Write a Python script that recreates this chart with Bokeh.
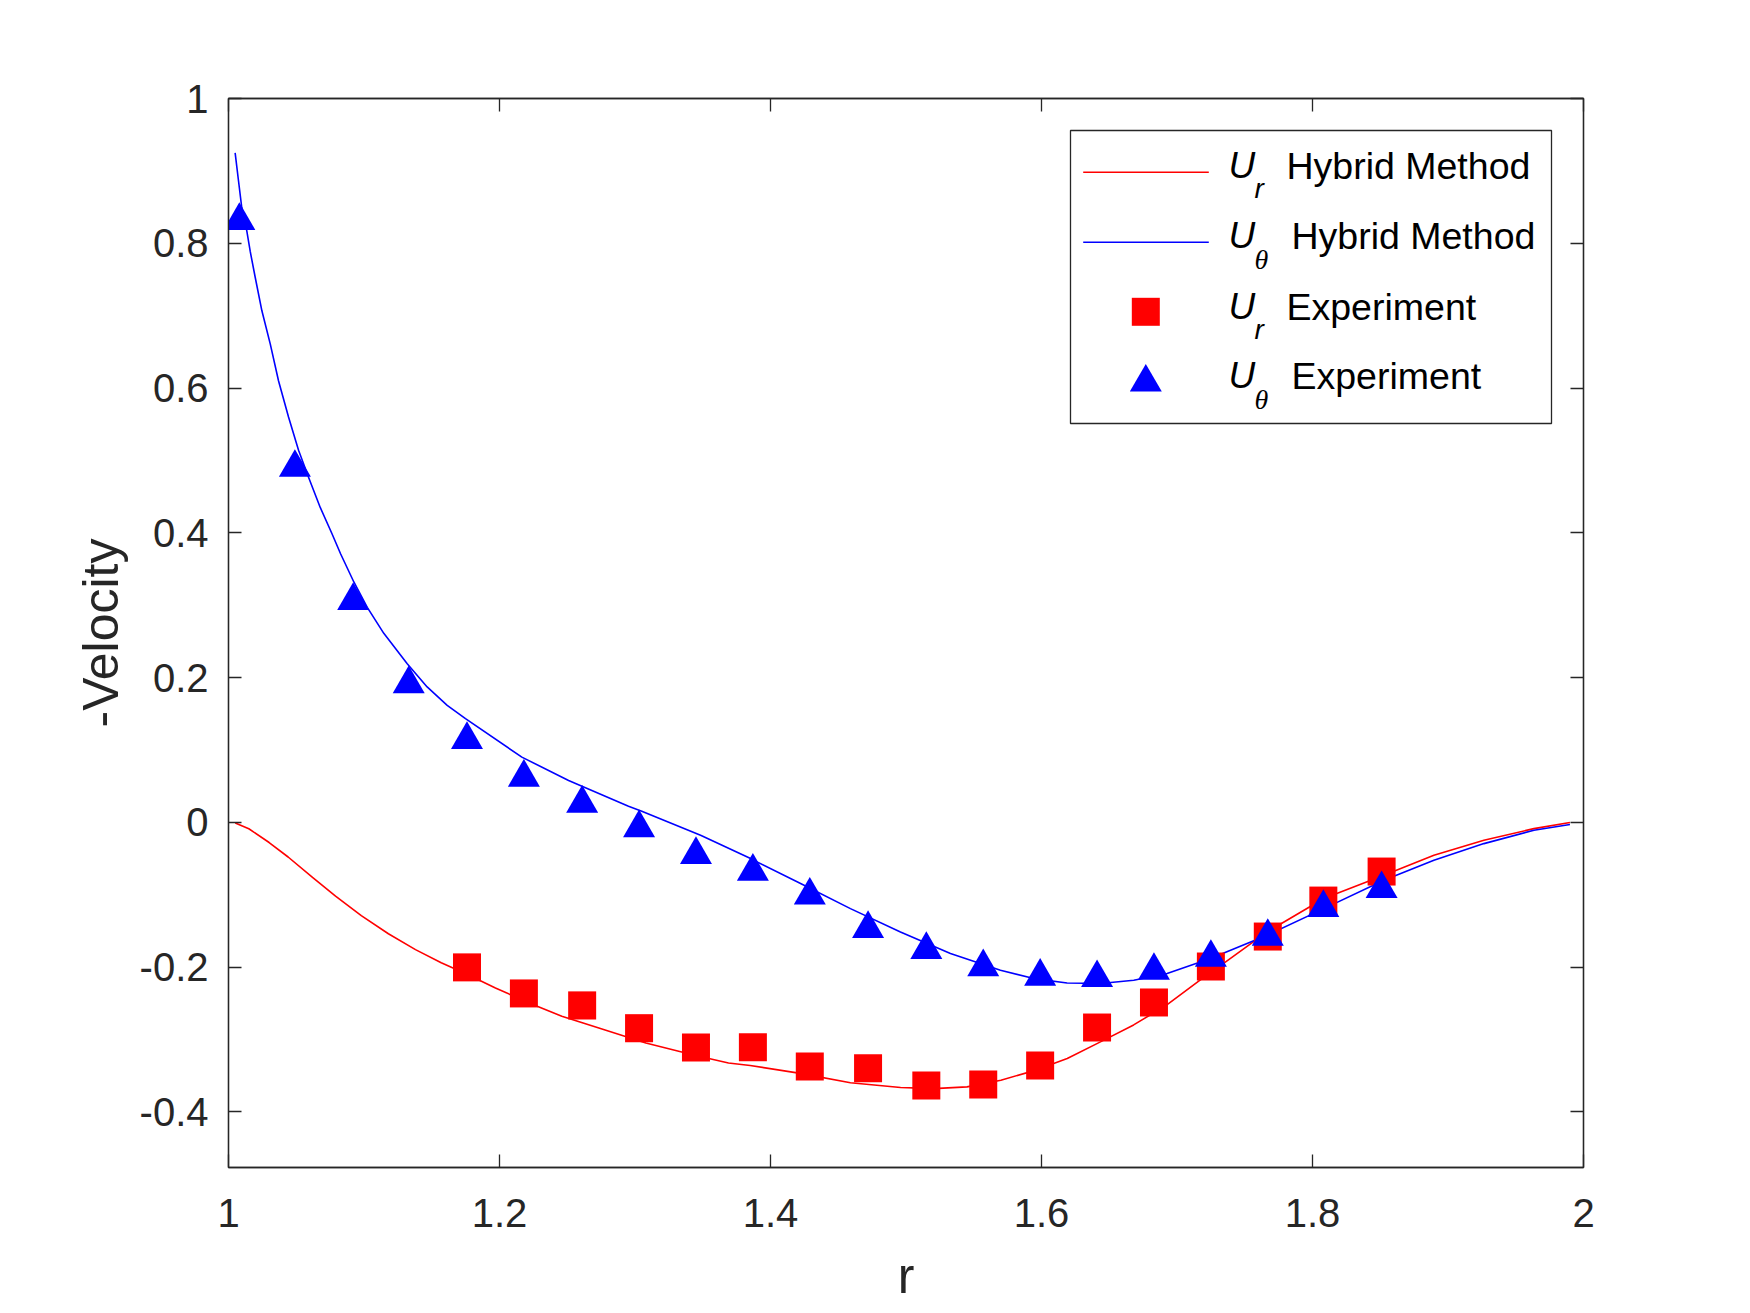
from bokeh.plotting import figure
from bokeh.models import (Range1d, FixedTicker, CustomJSTickFormatter, LinearAxis,
                          BoxAnnotation, PolyAnnotation, Label, Arrow)
from bokeh.embed import file_html
from bokeh.resources import INLINE

# ---------------- data ----------------
r_exp = [1.008, 1.049, 1.092, 1.133, 1.176, 1.218, 1.261, 1.303, 1.345, 1.387, 1.429,
         1.472, 1.515, 1.557, 1.599, 1.641, 1.683, 1.725, 1.767, 1.808, 1.851]
ut_exp = [0.831, 0.490, 0.306, 0.191, 0.114, 0.062, 0.026, -0.008, -0.045, -0.068, -0.101,
          -0.147, -0.176, -0.200, -0.213, -0.215, -0.205, -0.187, -0.158, -0.118, -0.092]
r_exp_ur = [1.176, 1.218, 1.261, 1.303, 1.345, 1.387, 1.429, 1.472, 1.515, 1.557, 1.599,
            1.641, 1.683, 1.725, 1.767, 1.808, 1.851]
ur_exp = [-0.2005, -0.2365, -0.253, -0.2845, -0.3113, -0.3108, -0.3375, -0.3398, -0.3637,
          -0.3623, -0.3361, -0.2836, -0.249, -0.1993, -0.1579, -0.1082, -0.0681]

r_ur_line = [1.005, 1.015, 1.030, 1.044, 1.062, 1.079, 1.098, 1.118, 1.138, 1.157, 1.176,
             1.197, 1.221, 1.246, 1.271, 1.308, 1.344, 1.369, 1.385, 1.422, 1.459, 1.496,
             1.5205, 1.545, 1.570, 1.594, 1.619, 1.6435, 1.668, 1.692, 1.717, 1.7247,
             1.7665, 1.8084, 1.8527, 1.8896, 1.9265, 1.9634, 1.990]
ur_line = [-0.001, -0.009, -0.028, -0.048, -0.076, -0.102, -0.129, -0.154, -0.176, -0.194,
           -0.210, -0.229, -0.249, -0.268, -0.283, -0.305, -0.322, -0.3326, -0.336, -0.347,
           -0.360, -0.3665, -0.368, -0.3656, -0.3564, -0.3435, -0.3264, -0.3034, -0.280,
           -0.253, -0.218, -0.208, -0.1515, -0.1054, -0.0732, -0.0456, -0.0249, -0.0088,
           -0.0003]

r_ut_line = [1.0049, 1.0074, 1.0098, 1.0135, 1.016, 1.0197, 1.0246, 1.0308, 1.0369, 1.0443,
             1.0517, 1.059, 1.0677, 1.0763, 1.0827, 1.0925, 1.1024, 1.1146, 1.1319, 1.1466,
             1.1614, 1.1749, 1.2165, 1.251, 1.2952, 1.305, 1.3484, 1.3853, 1.4222, 1.459,
             1.4959, 1.5328, 1.5697, 1.5943, 1.6189, 1.6435, 1.6681, 1.6927, 1.7247, 1.7665,
             1.8084, 1.8527, 1.8896, 1.9265, 1.9634, 1.990]
ut_line = [0.925, 0.886, 0.849, 0.817, 0.789, 0.753, 0.707, 0.661, 0.610, 0.560,
           0.514, 0.477, 0.435, 0.399, 0.371, 0.332, 0.297, 0.261, 0.219, 0.187,
           0.1616, 0.1432, 0.090, 0.0577, 0.022, 0.0152, -0.018, -0.0502, -0.0847, -0.1193,
           -0.1515, -0.1814, -0.2044, -0.216, -0.222, -0.2228, -0.2182, -0.209, -0.1883, -0.156,
           -0.1193, -0.0801, -0.0525, -0.0295, -0.0111, -0.003]

x_ticks = [1.0, 1.2, 1.4, 1.6, 1.8, 2.0]
y_ticks = [-0.4, -0.2, 0.0, 0.2, 0.4, 0.6, 0.8, 1.0]
x_label = "r"
y_label = "-Velocity"
legend_entries = [("U", "r", "Hybrid Method"), ("U", "\u03b8", "Hybrid Method"),
                  ("U", "r", "Experiment"), ("U", "\u03b8", "Experiment")]

# ---------------- styling ----------------
AX = "#262626"
FONT = "Liberation Sans"
RED = "#ff0000"
BLUE = "#0000ff"

# frame placed at page x 228..1583, y 98..1167
FW, FH = 1355, 1069
p = figure(frame_width=FW, frame_height=FH,
           min_border_left=228, min_border_right=159, min_border_top=98, min_border_bottom=138,
           x_range=Range1d(1, 2), y_range=Range1d(-0.477, 1.0),
           output_backend="svg", toolbar_location=None,
           background_fill_color="white", border_fill_color="white")
p.outline_line_color = AX
p.outline_line_width = 1.3
p.xgrid.visible = False
p.ygrid.visible = False

fmt_code = "return (Math.round(tick*10)/10).toString();"

def style_axis(ax, ticks, show_labels):
    ax.ticker = FixedTicker(ticks=ticks)
    ax.formatter = CustomJSTickFormatter(code=fmt_code if show_labels else "return '';")
    ax.major_tick_in = 13
    ax.major_tick_out = 0
    ax.minor_tick_in = 0
    ax.minor_tick_out = 0
    ax.major_tick_line_color = AX
    ax.major_tick_line_width = 1.3
    ax.axis_line_color = AX
    ax.axis_line_width = 1.3
    ax.major_label_text_font = FONT
    ax.major_label_text_font_size = "40px"
    ax.major_label_text_color = AX
    ax.axis_label_text_font = FONT
    ax.axis_label_text_font_size = "50px"
    ax.axis_label_text_font_style = "normal"
    ax.axis_label_text_color = AX

xa = p.xaxis[0]
ya = p.yaxis[0]
style_axis(xa, x_ticks, True)
style_axis(ya, y_ticks, True)
xa.axis_label = x_label
ya.axis_label = y_label
xa.major_label_standoff = 31
ya.major_label_standoff = 20
xa.axis_label_standoff = 18
ya.axis_label_standoff = 8

ra = LinearAxis()
style_axis(ra, y_ticks, False)
p.add_layout(ra, "right")
ta = LinearAxis()
style_axis(ta, x_ticks, False)
p.add_layout(ta, "above")

# ---------------- data glyphs ----------------
p.line(r_ur_line, ur_line, line_color=RED, line_width=1.6)
p.line(r_ut_line, ut_line, line_color=BLUE, line_width=1.6)
p.scatter(r_exp_ur, ur_exp, marker="square", size=28, fill_color=RED, line_color=None)
p.scatter(r_exp, ut_exp, marker="triangle", size=32, fill_color=BLUE, line_color=None)

# ---------------- legend (drawn by hand, screen units relative to the frame) ----------------
def sx(px):
    return px - 228

def sy(py):
    return 1167 - py

p.add_layout(BoxAnnotation(left=sx(1070), right=sx(1551), top=sy(130), bottom=sy(423),
                           left_units="screen", right_units="screen",
                           top_units="screen", bottom_units="screen",
                           fill_color="white", fill_alpha=1.0,
                           line_color=AX, line_width=1.3, line_alpha=1.0))

TEXT_SHIFT = 13.0
SUB_SHIFT = 7.0
row_base = [178.3, 248.3, 319.0, 388.3]
sub_base = [195.0, 266.0, 335.7, 405.7]
text_x = [1286, 1291, 1286, 1291]
sample_x0, sample_x1, sample_cx = 1082.7, 1208.3, 1145.3

p.add_layout(Arrow(end=None, x_start=sx(sample_x0), x_end=sx(sample_x1),
                   y_start=sy(171.7), y_end=sy(171.7),
                   start_units="screen", end_units="screen",
                   line_color=RED, line_width=1.6))
p.add_layout(Arrow(end=None, x_start=sx(sample_x0), x_end=sx(sample_x1),
                   y_start=sy(241.7), y_end=sy(241.7),
                   start_units="screen", end_units="screen",
                   line_color=BLUE, line_width=1.6))
p.add_layout(BoxAnnotation(left=sx(sample_cx - 14), right=sx(sample_cx + 14),
                           top=sy(311.3 - 14), bottom=sy(311.3 + 14),
                           left_units="screen", right_units="screen",
                           top_units="screen", bottom_units="screen",
                           fill_color=RED, fill_alpha=1.0, line_alpha=0))
p.add_layout(PolyAnnotation(xs=[sx(sample_cx - 16), sx(sample_cx + 16), sx(sample_cx)],
                            ys=[sy(391), sy(391), sy(363.5)],
                            xs_units="screen", ys_units="screen",
                            fill_color=BLUE, fill_alpha=1.0, line_alpha=0))

for i, (main, sub, rest) in enumerate(legend_entries):
    yb = sy(row_base[i] - TEXT_SHIFT)
    ys = sy(sub_base[i] - SUB_SHIFT)
    p.add_layout(Label(x=sx(1228), y=yb, x_units="screen", y_units="screen",
                       text=main, text_font=FONT, text_font_style="italic",
                       text_font_size="37px", text_color="black",
                       text_align="left", text_baseline="alphabetic"))
    sub_font = FONT if sub == "r" else "Liberation Serif"
    p.add_layout(Label(x=sx(1254), y=ys, x_units="screen", y_units="screen",
                       text=sub, text_font=sub_font, text_font_style="italic",
                       text_font_size="28px", text_color="black",
                       text_align="left", text_baseline="alphabetic"))
    p.add_layout(Label(x=sx(text_x[i]), y=yb, x_units="screen", y_units="screen",
                       text=rest, text_font=FONT, text_font_size="37.5px", text_color="black",
                       text_align="left", text_baseline="alphabetic"))

open("out.html", "w").write(file_html(p, INLINE))
